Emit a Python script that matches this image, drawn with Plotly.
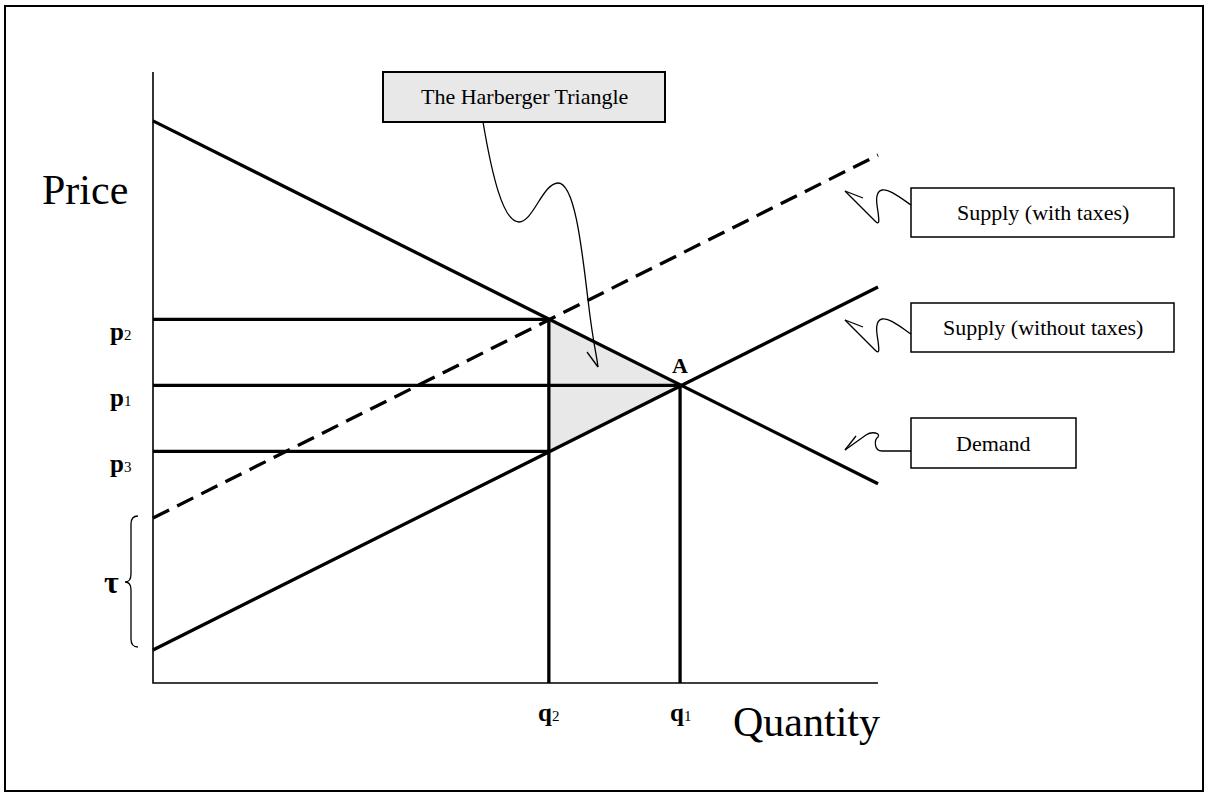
import plotly.graph_objects as go

# ---------------- data (economic units) ----------------
quantity_ends = [0, 10]          # quantity axis runs 0..10
price_axis_top = 10
demand_price = [9.20, 3.26]       # demand at Q=0 and Q=10
supply_price = [0.54, 6.48]       # supply without taxes
supply_tax_price = [2.70, 8.64]   # supply with taxes
q_values = {"q2": 5.46, "q1": 7.27}
p_values = {"p2": 5.95, "p1": 4.87, "p3": 3.79}
axis_title_x = "Quantity"
axis_title_y = "Price"
box_labels = ["The Harberger Triangle", "Supply (with taxes)",
              "Supply (without taxes)", "Demand"]

# ---------------- layout geometry ----------------
W, H = 1209, 798
OX, OY = 153, 683      # pixel position of the origin
SX, SY = 72.5, 61.1    # pixels per unit
x_range = [-OX / SX, (W - OX) / SX]
y_range = [-(H - OY) / SY, OY / SY]

FONT = "Liberation Serif, Times New Roman, serif"
BLACK = "#000000"
GRAY = "#e8e8e8"
LW = 3.3


def pp(x, y):
    """pixel -> paper"""
    return x / W, 1 - y / H


def path(cmds):
    out = []
    for c, pts in cmds:
        s = c
        s += " ".join("%.5f,%.5f" % pp(*p) for p in pts)
        out.append(s)
    return " ".join(out)


q2, q1 = q_values["q2"], q_values["q1"]
p2, p1, p3 = p_values["p2"], p_values["p1"], p_values["p3"]

fig = go.Figure()

# Harberger triangle fill
fig.add_trace(go.Scatter(x=[q2, q1, q2, q2], y=[p2, p1, p3, p2], mode="lines",
                         fill="toself", fillcolor=GRAY, line=dict(width=0),
                         hoverinfo="skip", showlegend=False))

# axes
fig.add_trace(go.Scatter(x=[0, 0, quantity_ends[1]], y=[price_axis_top, 0, 0],
                         mode="lines", line=dict(color=BLACK, width=1.6),
                         showlegend=False, hoverinfo="skip"))

# curves
fig.add_trace(go.Scatter(x=quantity_ends, y=supply_tax_price, mode="lines",
                         line=dict(color=BLACK, width=LW, dash="18px,9px"),
                         showlegend=False, name="Supply (with taxes)"))
fig.add_trace(go.Scatter(x=quantity_ends, y=supply_price, mode="lines",
                         line=dict(color=BLACK, width=LW),
                         showlegend=False, name="Supply (without taxes)"))
fig.add_trace(go.Scatter(x=quantity_ends, y=demand_price, mode="lines",
                         line=dict(color=BLACK, width=LW),
                         showlegend=False, name="Demand"))

# guide lines
for (xs, ys) in [([0, q2], [p2, p2]), ([0, q1], [p1, p1]), ([0, q2], [p3, p3]),
                 ([q2, q2], [0, p2]), ([q1, q1], [0, p1])]:
    fig.add_trace(go.Scatter(x=xs, y=ys, mode="lines",
                             line=dict(color=BLACK, width=LW),
                             showlegend=False, hoverinfo="skip"))

shapes = []
annotations = []

# outer frame
fx0, fy0 = pp(5, 6)
fx1, fy1 = pp(1203, 791)
shapes.append(dict(type="rect", xref="paper", yref="paper", x0=fx0, y0=fy1,
                   x1=fx1, y1=fy0, line=dict(color=BLACK, width=2)))

# callout boxes (pixel rects)
boxes = [((383, 72, 665, 122), GRAY, 2),
         ((911, 188, 1174, 237), "white", 1.5),
         ((911, 303, 1174, 352), "white", 1.5),
         ((911, 418, 1076, 468), "white", 1.5)]
for (x0, y0, x1, y1), fill, lw in boxes:
    a0, b0 = pp(x0, y0)
    a1, b1 = pp(x1, y1)
    shapes.append(dict(type="rect", xref="paper", yref="paper", x0=a0, y0=b1,
                       x1=a1, y1=b0, line=dict(color=BLACK, width=lw),
                       fillcolor=fill, layer="above"))
for ((x0, y0, x1, y1), _, _), txt in zip(boxes, box_labels):
    cx, cy = pp((x0 + x1) / 2, (y0 + y1) / 2)
    annotations.append(dict(x=cx, y=cy, xref="paper", yref="paper", text=txt,
                            showarrow=False, xanchor="center", yanchor="middle",
                            font=dict(family=FONT, size=22, color=BLACK)))

# squiggly pointers
thin = dict(color=BLACK, width=1.3)
squiggles = [
    [("M", [(483, 122)]), ("C", [(492, 175), (503, 222), (519, 222)]),
     ("C", [(533, 222), (543, 183), (558, 183)]),
     ("C", [(575, 183), (582, 250), (588, 300)]),
     ("S", [(596, 350), (598, 367)])],
    [("M", [(587, 352)]), ("L", [(598, 367), (605, 350)])],
]
for dy in (0, 129):
    squiggles.append([("M", [(911, 205 + dy)]),
                      ("C", [(898, 196 + dy), (889, 189 + dy), (882, 190 + dy)]),
                      ("C", [(874, 192 + dy), (877, 205 + dy), (878, 212 + dy)]),
                      ("C", [(879, 220 + dy), (880, 226 + dy), (875, 221 + dy)]),
                      ("L", [(845, 191 + dy)])])
    squiggles.append([("M", [(863, 198 + dy)]), ("L", [(845, 191 + dy), (850, 210 + dy)])])
squiggles.append([("M", [(911, 451)]), ("L", [(882, 451)]),
                  ("C", [(874, 451), (874, 440), (878, 437)]),
                  ("C", [(881, 433), (872, 431), (866, 435)]),
                  ("L", [(845, 450)])])
squiggles.append([("M", [(856, 436)]), ("L", [(845, 450), (865, 448)])])
# tau brace
squiggles.append([("M", [(138, 516)]), ("Q", [(131, 516), (131, 524)]),
                  ("L", [(131, 574)]), ("Q", [(131, 582), (125, 582)]),
                  ("Q", [(131, 582), (131, 590)]), ("L", [(131, 639)]),
                  ("Q", [(131, 647), (138, 647)])])
for cmds in squiggles:
    shapes.append(dict(type="path", xref="paper", yref="paper", path=path(cmds),
                       line=thin, layer="above"))

# axis titles
for txt, (x, y) in [(axis_title_y, (85, 190)), (axis_title_x, (806, 722))]:
    ax, ay = pp(x, y)
    annotations.append(dict(x=ax, y=ay, xref="paper", yref="paper", text=txt,
                            showarrow=False, xanchor="center", yanchor="middle",
                            font=dict(family=FONT, size=42, color=BLACK)))

# price labels
lx, _ = pp(120, 0)
for name, val in p_values.items():
    annotations.append(dict(x=lx, y=val, xref="paper", yref="y",
                            text="<b>p</b><span style='font-size:15px'>%s</span>" % name[1],
                            showarrow=False, xanchor="center", yanchor="middle",
                            yshift=-12, font=dict(family=FONT, size=25, color=BLACK)))
# quantity labels
_, ly = pp(0, 712)
for name, val in q_values.items():
    annotations.append(dict(x=val, y=ly, xref="x", yref="paper",
                            text="<b>q</b><span style='font-size:15px'>%s</span>" % name[1],
                            showarrow=False, xanchor="center", yanchor="middle",
                            font=dict(family=FONT, size=25, color=BLACK)))
# A label
annotations.append(dict(x=q1, y=p1, xref="x", yref="y", text="<b>A</b>",
                        showarrow=False, xanchor="center", yanchor="middle",
                        yshift=20, font=dict(family=FONT, size=22, color=BLACK)))
# tau label
tx, ty = pp(111, 582)
annotations.append(dict(x=tx, y=ty, xref="paper", yref="paper", text="<b>τ</b>",
                        showarrow=False, xanchor="center", yanchor="middle",
                        font=dict(family=FONT, size=32, color=BLACK)))

fig.update_layout(
    width=W, height=H, margin=dict(l=0, r=0, t=0, b=0),
    paper_bgcolor="white", plot_bgcolor="white",
    xaxis=dict(range=x_range, visible=False, fixedrange=True),
    yaxis=dict(range=y_range, visible=False, fixedrange=True),
    shapes=shapes, annotations=annotations, showlegend=False,
)

fig.write_html("out.html", config={"displayModeBar": False},
               post_script="document.body.style.margin='0';document.body.style.overflow='hidden';")
